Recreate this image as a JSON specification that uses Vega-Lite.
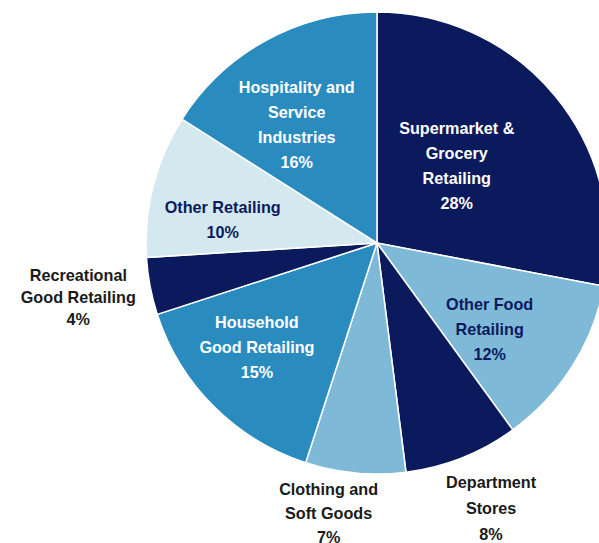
{
  "$schema": "https://vega.github.io/schema/vega-lite/v6.json",
  "autosize": "none",
  "width": 754,
  "height": 486,
  "padding": {"left": 0, "top": 0, "right": 0, "bottom": 57},
  "background": "white",
  "config": {"view": {"stroke": null}},
  "data": {
    "values": [
      {"cat": "Supermarket", "label": "Supermarket &\nGrocery\nRetailing\n28%", "value": 28, "rank": 1},
      {"cat": "OtherFood", "label": "Other Food\nRetailing\n12%", "value": 12, "rank": 2},
      {"cat": "Department", "label": "Department\nStores\n8%", "value": 8, "rank": 3},
      {"cat": "Clothing", "label": "Clothing and\nSoft Goods\n7%", "value": 7, "rank": 4},
      {"cat": "Household", "label": "Household\nGood Retailing\n15%", "value": 15, "rank": 5},
      {"cat": "Recreational", "label": "Recreational\nGood Retailing\n4%", "value": 4, "rank": 6},
      {"cat": "OtherRetailing", "label": "Other Retailing\n10%", "value": 10, "rank": 7},
      {"cat": "Hospitality", "label": "Hospitality and\nService\nIndustries\n16%", "value": 16, "rank": 8}
    ]
  },
  "encoding": {
    "theta": {"field": "value", "type": "quantitative", "stack": true},
    "order": {"field": "rank", "type": "quantitative"}
  },
  "layer": [
    {
      "mark": {"type": "arc", "outerRadius": 231, "stroke": "white", "strokeWidth": 1.5},
      "encoding": {
        "color": {
          "field": "cat", "type": "nominal", "legend": null,
          "scale": {
            "domain": ["Supermarket", "OtherFood", "Department", "Clothing", "Household", "Recreational", "OtherRetailing", "Hospitality"],
            "range": ["#0b1a5c", "#7fb9d8", "#0b1a5c", "#7fb9d8", "#2a8bbf", "#0b1a5c", "#d4e8f0", "#2a8bbf"]
          }
        }
      }
    },
    {
      "mark": {"type": "text", "radius": 110, "dx": -5, "dy": -43.5, "font": "Liberation Sans", "fontWeight": "bold", "fontSize": 16.2, "lineHeight": 25, "lineBreak": "\n", "fill": "white", "align": "center", "baseline": "middle"},
      "encoding": {"text": {"condition": {"test": "datum.cat === 'Supermarket'", "field": "label"}, "value": ""}}
    },
    {
      "mark": {"type": "text", "radius": 150, "dx": -14, "dy": -18, "font": "Liberation Sans", "fontWeight": "bold", "fontSize": 16.2, "lineHeight": 25, "lineBreak": "\n", "fill": "#0b1a5c", "align": "center", "baseline": "middle"},
      "encoding": {"text": {"condition": {"test": "datum.cat === 'OtherFood'", "field": "label"}, "value": ""}}
    },
    {
      "mark": {"type": "text", "radius": 150, "dx": -14, "dy": -26, "font": "Liberation Sans", "fontWeight": "bold", "fontSize": 16.2, "lineHeight": 25, "lineBreak": "\n", "fill": "white", "align": "center", "baseline": "middle"},
      "encoding": {"text": {"condition": {"test": "datum.cat === 'Household'", "field": "label"}, "value": ""}}
    },
    {
      "mark": {"type": "text", "radius": 150, "dx": -9, "dy": 2.5, "font": "Liberation Sans", "fontWeight": "bold", "fontSize": 16.2, "lineHeight": 25, "lineBreak": "\n", "fill": "#0b1a5c", "align": "center", "baseline": "middle"},
      "encoding": {"text": {"condition": {"test": "datum.cat === 'OtherRetailing'", "field": "label"}, "value": ""}}
    },
    {
      "mark": {"type": "text", "radius": 150, "dx": -8, "dy": -23.5, "font": "Liberation Sans", "fontWeight": "bold", "fontSize": 16.2, "lineHeight": 25, "lineBreak": "\n", "fill": "white", "align": "center", "baseline": "middle"},
      "encoding": {"text": {"condition": {"test": "datum.cat === 'Hospitality'", "field": "label"}, "value": ""}}
    },
    {
      "mark": {"type": "text", "radius": 300, "dx": -4, "dy": -23, "font": "Liberation Sans", "fontWeight": "bold", "fontSize": 16.2, "lineHeight": 22, "lineBreak": "\n", "fill": "#1a1a1a", "align": "center", "baseline": "middle"},
      "encoding": {"text": {"condition": {"test": "datum.cat === 'Recreational'", "field": "label"}, "value": ""}}
    },
    {
      "mark": {"type": "text", "radius": 270, "dx": -23, "dy": -22, "font": "Liberation Sans", "fontWeight": "bold", "fontSize": 16.2, "lineHeight": 24, "lineBreak": "\n", "fill": "#1a1a1a", "align": "center", "baseline": "middle"},
      "encoding": {"text": {"condition": {"test": "datum.cat === 'Clothing'", "field": "label"}, "value": ""}}
    },
    {
      "mark": {"type": "text", "radius": 280, "dx": 11, "dy": -20, "font": "Liberation Sans", "fontWeight": "bold", "fontSize": 16.2, "lineHeight": 26, "lineBreak": "\n", "fill": "#1a1a1a", "align": "center", "baseline": "middle"},
      "encoding": {"text": {"condition": {"test": "datum.cat === 'Department'", "field": "label"}, "value": ""}}
    }
  ]
}
